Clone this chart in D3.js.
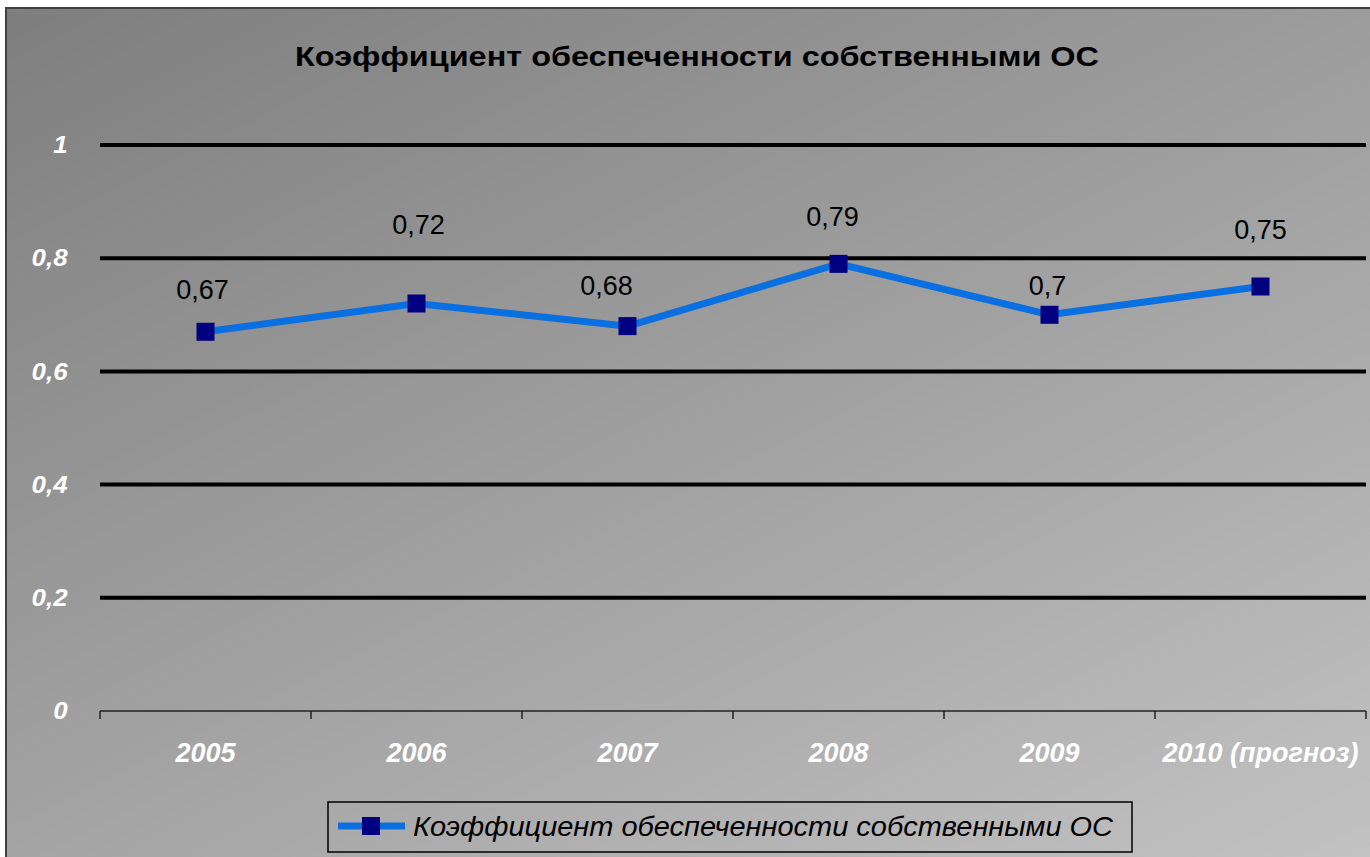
<!DOCTYPE html>
<html>
<head>
<meta charset="utf-8">
<script src="https://cdn.jsdelivr.net/npm/d3@7"></script>
<style>
  body { margin: 0; background: #ffffff; }
  svg { display: block; font-family: "Liberation Sans", Arial, sans-serif; }
</style>
</head>
<body>
<svg id="chart" width="1370" height="857"></svg>
<script>
// data
var years = ["2005", "2006", "2007", "2008", "2009", "2010 (прогноз)"];
var coef = [0.67, 0.72, 0.68, 0.79, 0.7, 0.75];
var yTicks = [0, 0.2, 0.4, 0.6, 0.8, 1];
var seriesName = "Коэффициент обеспеченности собственными ОС";
var chartTitle = "Коэффициент обеспеченности собственными ОС";

// label nudges (px), the labels in the original were dragged by hand
var labelDx = [-3, 2, -21, -6, -2, 0];
var labelDy = [-43, -79, -41, -48, -30, -57];

var svg = d3.select("#chart");
var margin = {top: 145, left: 100, right: 4, bottom: 146};
var width = 1370 - margin.left - margin.right;
var height = 857 - margin.top - margin.bottom;

var fmt = function(v) { return String(v).replace(".", ","); };

// background gradient of the chart area
var defs = svg.append("defs");
var grad = defs.append("linearGradient")
    .attr("id", "bg")
    .attr("gradientUnits", "userSpaceOnUse")
    .attr("x1", 6).attr("y1", 8)
    .attr("x2", 616).attr("y2", 1233);
grad.append("stop").attr("offset", 0).attr("stop-color", "#7e7e7e");
grad.append("stop").attr("offset", 1).attr("stop-color", "#c2c2c2");

svg.append("rect")
    .attr("x", 6).attr("y", 8)
    .attr("width", 1370).attr("height", 857)
    .attr("fill", "url(#bg)")
    .attr("stroke", "#404040")
    .attr("stroke-width", 2);

// title
svg.append("text")
    .attr("x", 697)
    .attr("y", 66)
    .attr("text-anchor", "middle")
    .attr("textLength", 804)
    .attr("lengthAdjust", "spacingAndGlyphs")
    .style("font-size", "27px")
    .style("font-weight", "bold")
    .attr("fill", "#000")
    .text(chartTitle);

var g = svg.append("g")
    .attr("transform", "translate(" + margin.left + "," + margin.top + ")");

// scales
var x = d3.scaleBand().domain(years).range([0, width]);
var y = d3.scaleLinear().domain([0, 1]).range([height, 0]);

// grid lines
g.append("g")
    .selectAll("line")
    .data(yTicks.filter(function(d) { return d > 0; }))
    .enter().append("line")
    .attr("x1", 0)
    .attr("x2", width)
    .attr("y1", function(d) { return y(d); })
    .attr("y2", function(d) { return y(d); })
    .attr("stroke", "#000")
    .attr("stroke-width", 4);

// Add the Y Axis (labels only)
var yAxis = g.append("g")
    .call(d3.axisLeft(y).tickValues(yTicks).tickFormat(fmt).tickSize(0).tickPadding(30));
yAxis.select(".domain").remove();
yAxis.selectAll("text")
    .attr("fill", "#fff")
    .style("font-size", "24px")
    .style("font-style", "italic")
    .style("font-weight", "bold")
    .attr("transform", "scale(1.08,1)");

// Add the X Axis
var xAxis = d3.axisBottom(x).tickSize(0).tickPadding(32);
var xg = g.append("g")
    .attr("transform", "translate(0," + height + ")")
    .call(xAxis);
xg.select(".domain")
    .attr("stroke", "#222")
    .attr("stroke-width", 1.5)
    .attr("d", "M0,0H" + width);
xg.selectAll("text")
    .attr("fill", "#fff")
    .style("font-size", "27px")
    .style("font-style", "italic")
    .style("font-weight", "bold");

// tick marks sit between the categories
xg.selectAll("line.sep")
    .data(d3.range(years.length + 1))
    .enter().append("line")
    .attr("class", "sep")
    .attr("x1", function(i) { return i * x.step(); })
    .attr("x2", function(i) { return i * x.step(); })
    .attr("y1", 0)
    .attr("y2", 8)
    .attr("stroke", "#222")
    .attr("stroke-width", 1.5);

// define the line
var cx = function(d, i) { return x(years[i]) + x.bandwidth() / 2; };
var valueline = d3.line()
    .x(cx)
    .y(function(d) { return y(d); });

g.append("path")
    .datum(coef)
    .attr("d", valueline)
    .attr("fill", "none")
    .attr("stroke", "#0a6fe0")
    .attr("stroke-width", 7);

g.selectAll("rect.pt")
    .data(coef)
    .enter().append("rect")
    .attr("class", "pt")
    .attr("x", function(d, i) { return cx(d, i) - 9; })
    .attr("y", function(d) { return y(d) - 9; })
    .attr("width", 18)
    .attr("height", 18)
    .attr("fill", "#000080");

// data labels
g.selectAll("text.lbl")
    .data(coef)
    .enter().append("text")
    .attr("class", "lbl")
    .attr("x", function(d, i) { return cx(d, i) + labelDx[i]; })
    .attr("y", function(d, i) { return y(d) + labelDy[i]; })
    .attr("dy", "0.36em")
    .attr("text-anchor", "middle")
    .style("font-size", "27px")
    .attr("fill", "#000")
    .text(fmt);

// legend
var legend = svg.append("g").attr("transform", "translate(328,802)");
legend.append("rect")
    .attr("width", 804)
    .attr("height", 50)
    .attr("fill", "none")
    .attr("stroke", "#000")
    .attr("stroke-width", 1.5);
legend.append("line")
    .attr("x1", 10).attr("x2", 77)
    .attr("y1", 24).attr("y2", 24)
    .attr("stroke", "#0a6fe0")
    .attr("stroke-width", 7);
legend.append("rect")
    .attr("x", 34).attr("y", 15)
    .attr("width", 18).attr("height", 18)
    .attr("fill", "#000080");
legend.append("text")
    .attr("x", 85)
    .attr("y", 34)
    .attr("textLength", 700)
    .attr("lengthAdjust", "spacingAndGlyphs")
    .style("font-size", "28px")
    .style("font-style", "italic")
    .attr("fill", "#000")
    .text(seriesName);
</script>
</body>
</html>
